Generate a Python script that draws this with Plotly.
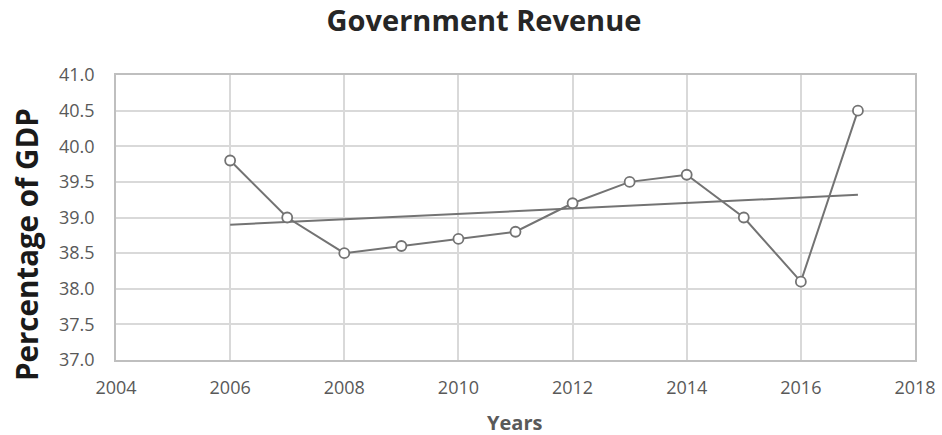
import numpy as np
import plotly.graph_objects as go

years = [2006, 2007, 2008, 2009, 2010, 2011, 2012, 2013, 2014, 2015, 2016, 2017]
revenue = [39.8, 39.0, 38.5, 38.6, 38.7, 38.8, 39.2, 39.5, 39.6, 39.0, 38.1, 40.5]
x_ticks = [2004, 2006, 2008, 2010, 2012, 2014, 2016, 2018]
y_ticks = [37.0, 37.5, 38.0, 38.5, 39.0, 39.5, 40.0, 40.5, 41.0]

slope, intercept = np.polyfit(years, revenue, 1)
trend_x = [years[0], years[-1]]
trend_y = [slope * x + intercept for x in trend_x]

line_col = "#737373"
grid_col = "#d9d9d9"
font = "Open Sans"

W, H = 942, 435
L, R, T, B = 116, 27, 75, 75

fig = go.Figure()
fig.add_trace(go.Scatter(x=trend_x, y=trend_y, mode="lines",
                         line=dict(color=line_col, width=2), showlegend=False))
fig.add_trace(go.Scatter(x=years, y=revenue, mode="lines+markers",
                         line=dict(color=line_col, width=2),
                         marker=dict(symbol="circle", size=10, color="white",
                                     line=dict(color=line_col, width=1.8)),
                         showlegend=False))

pw = W - L - R
ph = H - T - B

fig.update_layout(
    width=W, height=H,
    margin=dict(l=L, r=R, t=T, b=B, autoexpand=False),
    paper_bgcolor="white", plot_bgcolor="white",
    title=dict(text="<b>Government Revenue</b>", x=484 / W, xanchor="center",
               xref="container",
               y=1 - 21 / H, yanchor="middle",
               font=dict(family=font, size=29, color="#262626")),
    font=dict(family=font),
    annotations=[
        dict(text="<b>Percentage of GDP</b>", textangle=-90,
             xref="paper", yref="paper",
             x=(26 - L) / pw, y=(360 - 245) / ph,
             xanchor="center", yanchor="middle", showarrow=False,
             font=dict(family=font, size=29.5, color="#1a1a1a")),
        dict(text="<b>Years</b>",
             xref="paper", yref="paper",
             x=(514 - L) / pw, y=-(422 - 360) / ph,
             xanchor="center", yanchor="middle", showarrow=False,
             font=dict(family=font, size=20, color="#595959")),
    ],
)
fig.update_xaxes(range=[2004, 2018], tickvals=x_ticks, ticktext=[str(v) for v in x_ticks],
                 showgrid=True, gridcolor=grid_col, gridwidth=1.5,
                 showline=True, linecolor="#bfbfbf", linewidth=1.5, mirror=True,
                 zeroline=False, ticks="", ticklen=0, automargin=False,
                 ticklabelstandoff=11,
                 tickfont=dict(family=font, size=18, color="#595959"))
fig.update_yaxes(range=[37, 41], tickvals=y_ticks, ticktext=[f"{v:.1f}" for v in y_ticks],
                 showgrid=True, gridcolor=grid_col, gridwidth=1.5,
                 showline=True, linecolor="#bfbfbf", linewidth=1.5, mirror=True,
                 zeroline=False, ticks="", ticklen=0, automargin=False,
                 ticklabelstandoff=16,
                 tickfont=dict(family=font, size=18, color="#595959"))

fig.write_html("out.html", config={"displayModeBar": False},
               post_script="document.body.style.margin='0';document.body.style.overflow='hidden';")
